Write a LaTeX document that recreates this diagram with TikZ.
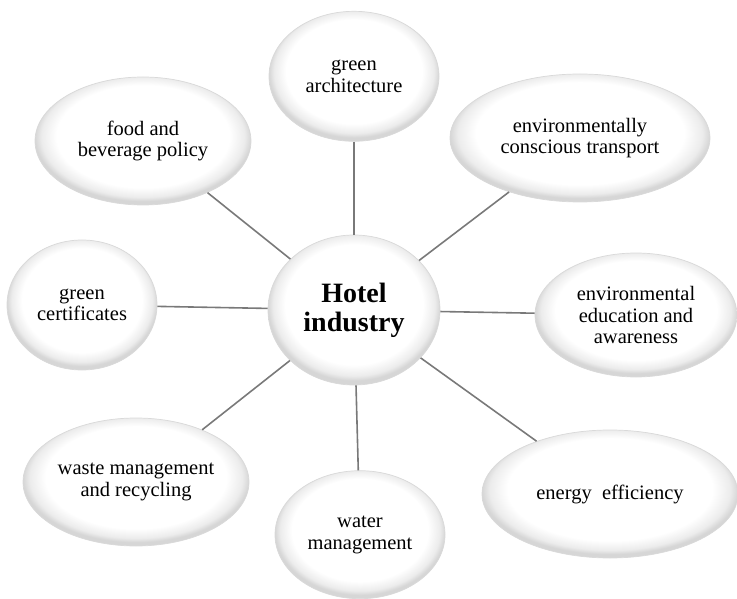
\documentclass[tikz,border=0pt]{standalone}
\usepackage{fontspec}
\setmainfont{Liberation Serif}
\usetikzlibrary{shapes.geometric, positioning}

% white bubble with a soft grey rim
\pgfdeclareradialshading{bubblerim}{\pgfpoint{0bp}{3bp}}{%
  color(0bp)=(white); color(20bp)=(white); color(23.5bp)=(gray!15);
  color(25bp)=(gray!32); color(50bp)=(gray!32)}

\begin{document}
\begin{tikzpicture}[
        x=1pt, y=-1pt,
        every node/.style={align=center, font=\fontsize{20.5}{21.5}\selectfont, inner sep=0pt},
        bubble/.style={ellipse, draw=gray!30, line width=0.7pt, shading=bubblerim},
        link/.style={draw=gray!95!black, line width=1.6pt}
    ]
      \useasboundingbox (0,0) rectangle (737,599);

      \node[bubble, minimum width=172pt, minimum height=150pt,
            font=\bfseries\fontsize{28}{29}\selectfont] (hub) at (354,310) {Hotel\\industry};
      \node[bubble, minimum width=170pt, minimum height=130pt, above=93pt of hub] (arch) {green\\architecture};
      \node[bubble, minimum width=170pt, minimum height=128pt, below=85pt of hub, xshift=6pt] (water) {water\\management};
      \node[bubble, minimum width=216pt, minimum height=128pt] (food) at (143,141) {food and\\beverage policy};
      \node[bubble, minimum width=260pt, minimum height=128pt] (trans) at (580,138) {environmentally\\conscious transport};
      \node[bubble, minimum width=202pt, minimum height=124pt] (edu) at (636,315) {environmental\\education and\\awareness};
      \node[bubble, minimum width=256pt, minimum height=128pt] (energy) at (610,494) {energy\ \ efficiency};
      \node[bubble, minimum width=226pt, minimum height=128pt] (waste) at (136,482) {waste management\\and recycling};
      \node[bubble, minimum width=150pt, minimum height=130pt] (cert) at (82,305) {green\\certificates};

      \draw[link] (arch) -- (hub);
      \draw[link] (trans) -- (hub);
      \draw[link] (edu) -- (hub);
      \draw[link] (energy) -- (hub);
      \draw[link] (water) -- (hub);
      \draw[link] (waste) -- (hub);
      \draw[link] (cert) -- (hub);
      \draw[link] (food) -- (hub);
    \end{tikzpicture}
\end{document}
